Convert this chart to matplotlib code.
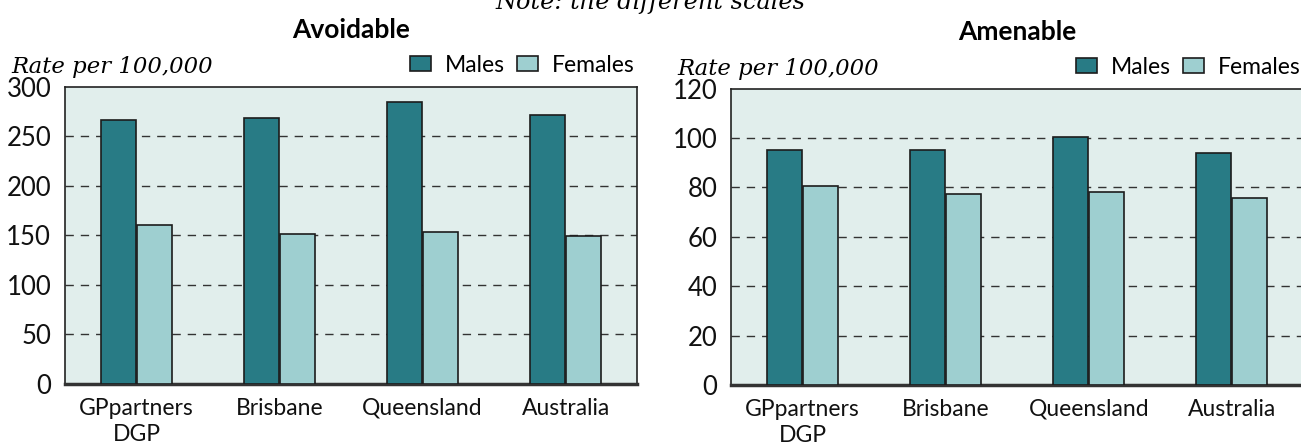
import matplotlib
matplotlib.use("Agg")
import matplotlib.pyplot as plt
import numpy as np
from matplotlib.patches import Patch

categories = ["GPpartners\nDGP", "Brisbane", "Queensland", "Australia"]
series_names = ["Males", "Females"]
avoidable_males = [267, 269, 285, 272]
avoidable_females = [161, 151, 154, 149]
amenable_males = [95, 95, 100.5, 94]
amenable_females = [80.7, 77.4, 78, 75.6]
avoidable_ticks = [0, 50, 100, 150, 200, 250, 300]
amenable_ticks = [0, 20, 40, 60, 80, 100, 120]

C_MALE = "#287b85"
C_FEMALE = "#9ecfd0"
C_BG = "#e1eeec"
FONT = ["Lato", "DejaVu Sans"]
plt.rcParams["font.family"] = FONT

fig = plt.figure(figsize=(13.01, 4.46), dpi=100)

def panel(rect, males, females, ticks, title):
    ax = fig.add_axes(rect)
    ax.set_facecolor(C_BG)
    x = np.arange(len(categories))
    w = 0.245
    ax.bar(x - w / 2 - 0.005, males, w, color=C_MALE, edgecolor="#1c1c1c", linewidth=1.2, zorder=3)
    ax.bar(x + w / 2 + 0.005, females, w, color=C_FEMALE, edgecolor="#1c1c1c", linewidth=1.2, zorder=3)
    ax.set_xlim(-0.5, len(categories) - 0.5)
    ax.set_ylim(ticks[0], ticks[-1])
    ax.set_yticks(ticks)
    ax.set_yticklabels([str(t) for t in ticks], fontsize=18.5)
    ax.set_xticks(x)
    ax.set_xticklabels(categories, fontsize=16.5, linespacing=1.28)
    ax.tick_params(axis="y", length=0, pad=10, colors="#111111")
    ax.tick_params(axis="x", length=0, pad=10, colors="#111111")
    for t in ticks[1:-1]:
        ax.axhline(t, color="#333333", linestyle=(0, (6, 5)), linewidth=1.0, zorder=1)
    for s in ax.spines.values():
        s.set_color("#222222")
        s.set_linewidth(1.2)
    ax.spines["bottom"].set_linewidth(2.5)
    ax.spines["bottom"].set_color("#333333")
    ax.set_title(title, fontsize=19, fontweight="bold", pad=35)
    ax.text(-0.094, 1.03, "Rate per 100,000", transform=ax.transAxes, fontsize=16.4,
            style="italic", ha="left", va="bottom", family=["DejaVu Serif"])
    handles = [Patch(facecolor=C_MALE, edgecolor="#1c1c1c", linewidth=1.2),
               Patch(facecolor=C_FEMALE, edgecolor="#1c1c1c", linewidth=1.2)]
    ax.legend(handles, series_names, loc="lower right", bbox_to_anchor=(1.0, 1.03),
              ncol=2, frameon=False, fontsize=16.5, handlelength=0.95, handleheight=0.6,
              columnspacing=0.5, handletextpad=0.6, borderaxespad=0.0, borderpad=0.1)
    return ax

panel([0.050, 0.139, 0.4397, 0.666], avoidable_males, avoidable_females, avoidable_ticks, "Avoidable")
panel([0.562, 0.137, 0.4397, 0.664], amenable_males, amenable_females, amenable_ticks, "Amenable")

fig.text(0.5, 1 - 9 / 446, "Note: the different scales", ha="center", va="baseline",
         fontsize=17.3, style="italic", family=["DejaVu Serif"])

fig.savefig("out.png", dpi=100)
